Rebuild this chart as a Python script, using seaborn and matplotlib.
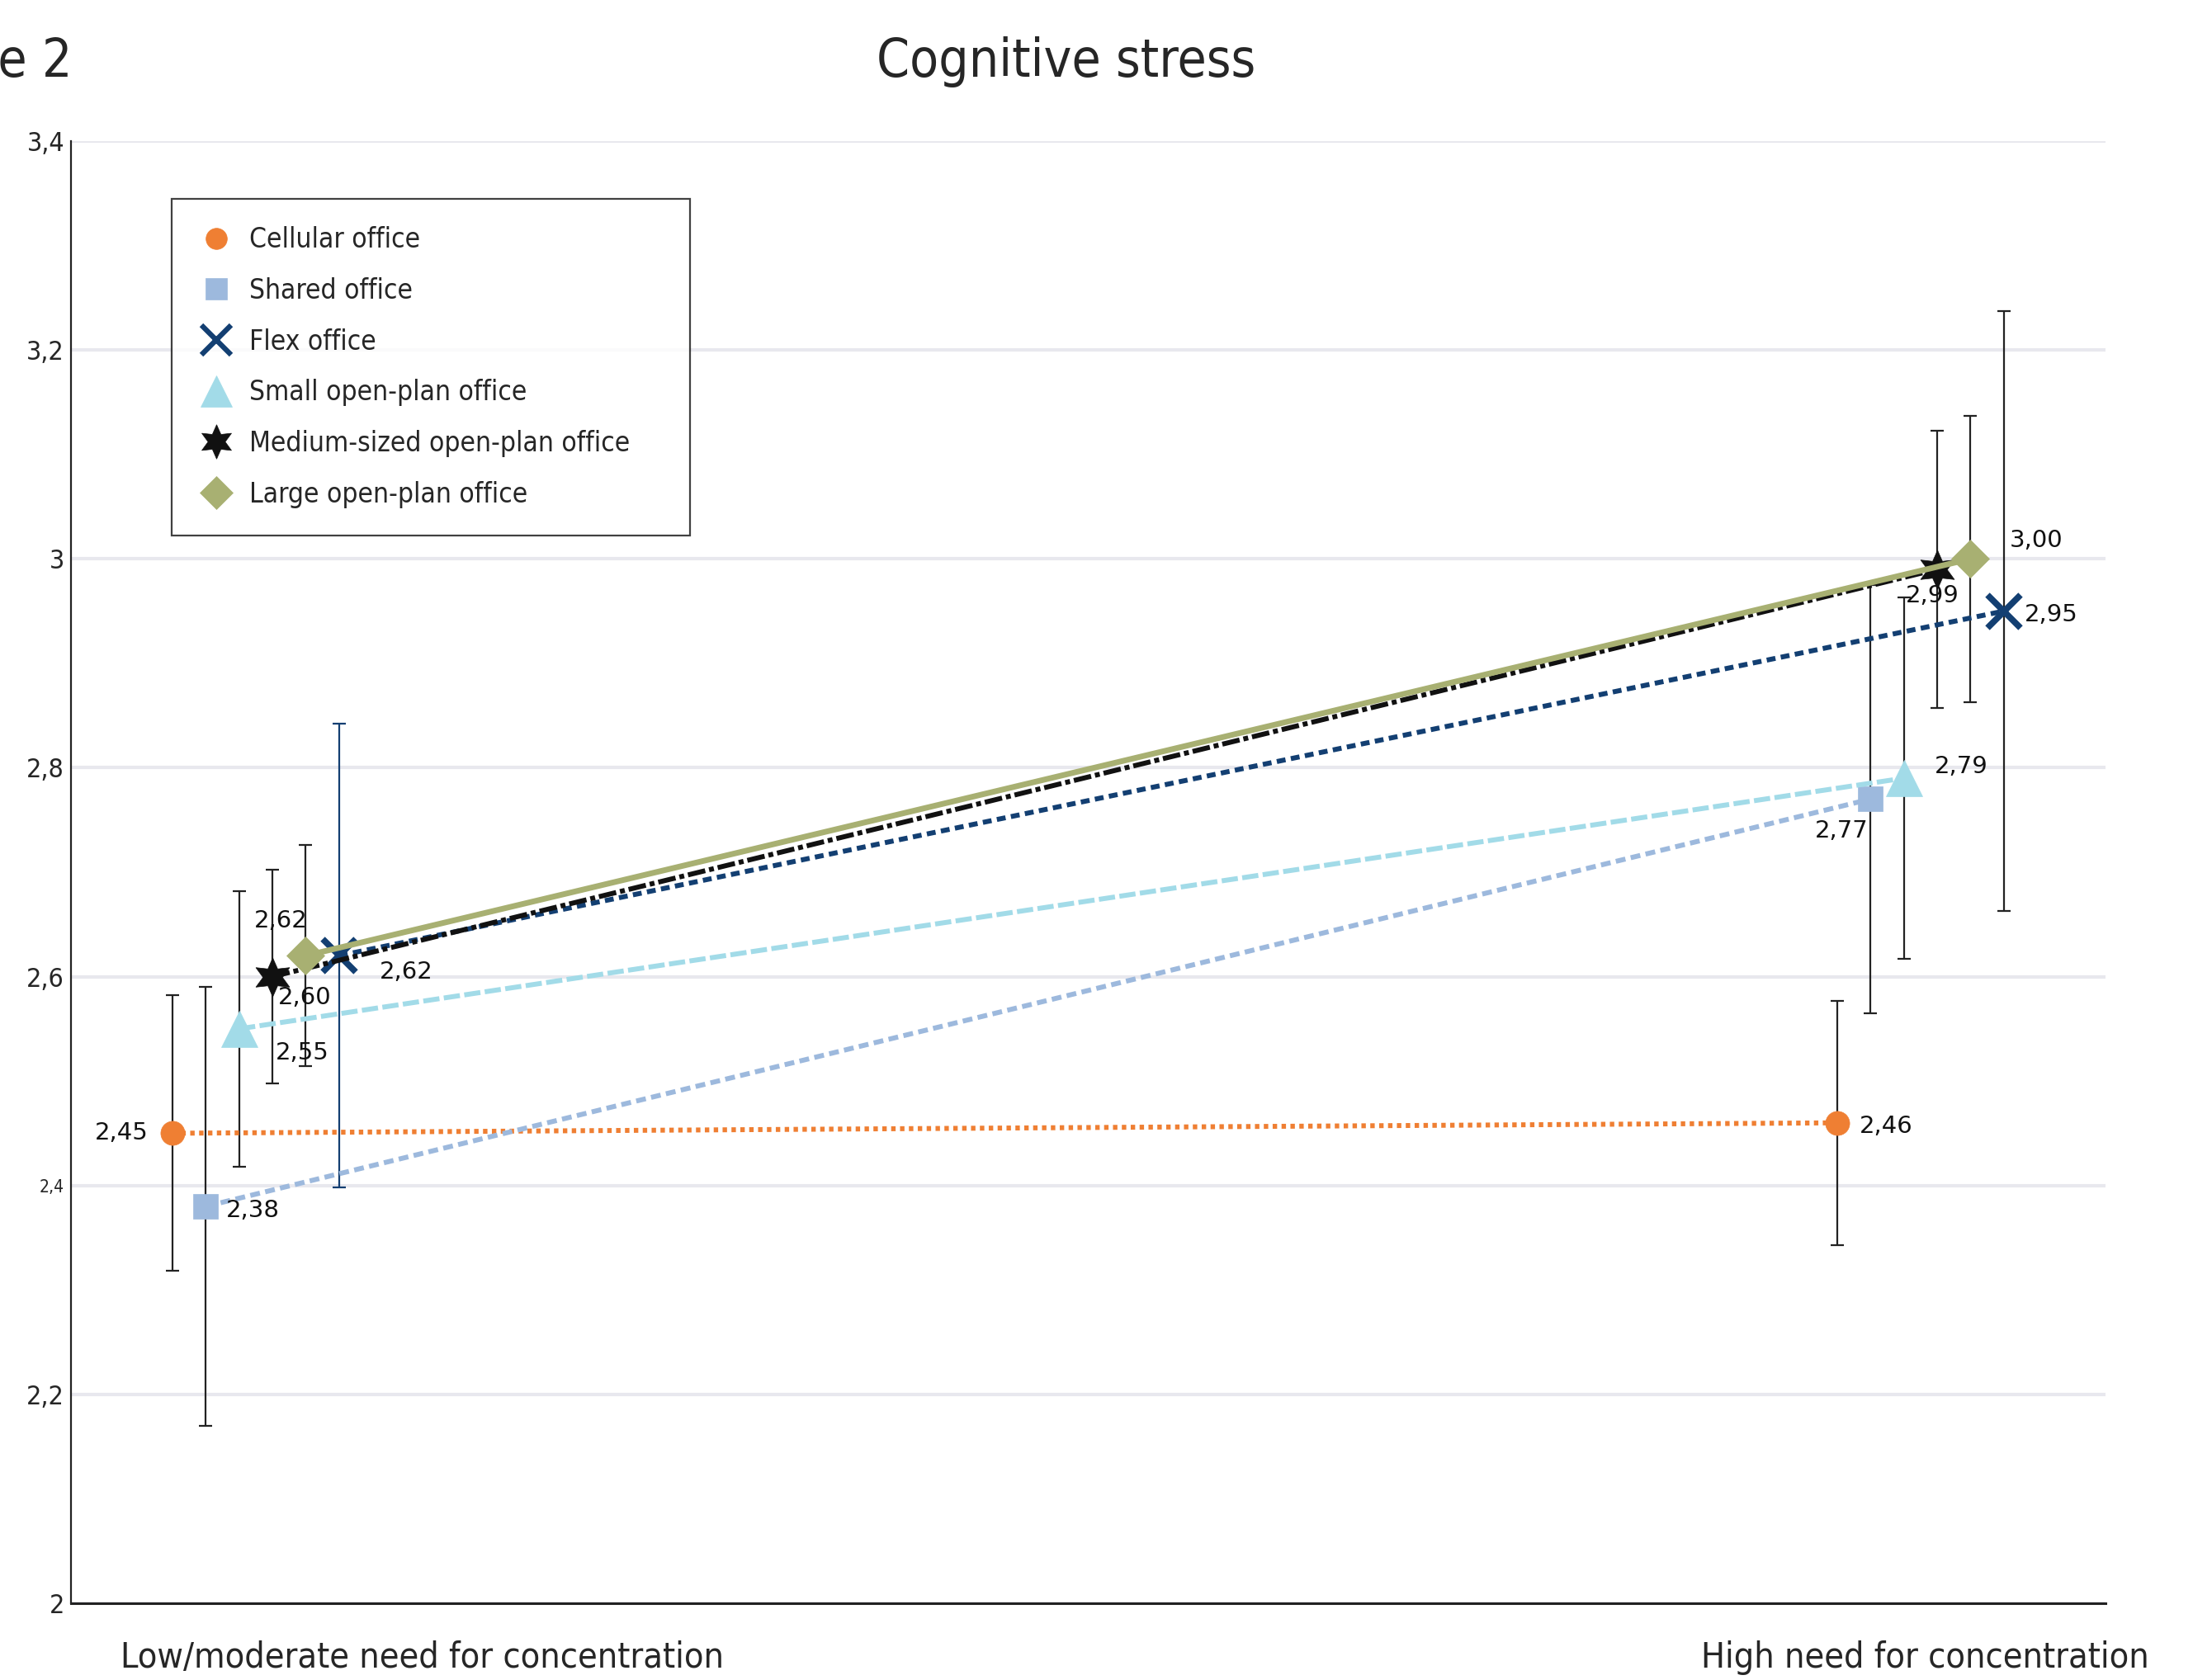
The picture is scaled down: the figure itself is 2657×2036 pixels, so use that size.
import matplotlib
matplotlib.use("Agg")
import matplotlib.pyplot as plt
import matplotlib.transforms as mtransforms
from matplotlib.lines import Line2D
import seaborn as sns
import pandas as pd

# Werte
offices = ["Cellular office", "Shared office", "Flex office", "Small open-plan office",
           "Medium-sized open-plan office", "Large open-plan office"]
groups = ["Low/moderate need for concentration", "High need for concentration"]
low_means = [2.45, 2.38, 2.62, 2.55, 2.60, 2.62]
high_means = [2.46, 2.77, 2.95, 2.79, 2.99, 3.00]
low_err = [0.132, 0.21, 0.222, 0.132, 0.102, 0.106]
high_err = [0.117, 0.205, 0.287, 0.173, 0.133, 0.137]
yticks = [2, 2.2, 2.4, 2.6, 2.8, 3, 3.2, 3.4]
ytick_labels = ["2", "2,2", "2,4", "2,6", "2,8", "3", "3,2", "3,4"]

# Stil je Büro-Typ
colors = ["#EF7F33", "#9DB9DD", "#133F72", "#A2DBE8", "#111111", "#A8B072"]
slots = [-2, -1, 3, 0, 1, 2]
markers = ["o", "s", "x", "^", (6, 1, 0), "D"]
msizes = [21, 21, 29, 31, 34, 23]
mews = [0.5, 0.5, 5.5, 0.5, 0.5, 0.5]
styles = [(0, (0.9, 0.9)), (0, (2.0, 1.1)), (0, (1.8, 1.1)), (0, (3.3, 0.9)),
          (0, (3.6, 0.8, 1, 0.8)), "-"]
widths = [4.3, 4.3, 4.3, 4.3, 4.3, 5.0]
low_ecol = ["#222222", "#222222", "#133F72", "#222222", "#222222", "#222222"]
# Offsets der Datenbeschriftungen (Pixel) und Ausrichtung
low_lab = [(-29, 0, "right"), (25, -5, "left"), (49, -20, "left"), (44, -29, "left"),
           (7, -25, "left"), (2, 42, "right")]
high_lab = [(27, -4, "left"), (-3, -39, "right"), (25, -4, "left"), (37, 14, "left"),
            (-6, -32, "center"), (47, 22, "left")]

step = 0.02

sns.set_theme(style="white")
plt.rcParams["font.family"] = ["DejaVu Sans"]
plt.rcParams["font.stretch"] = "condensed"

fig = plt.figure(figsize=(26.57, 20.36), dpi=100)
ax = fig.add_axes([0.0325, 0.0457, 0.9275, 0.8703])

for i, name in enumerate(offices):
    df = pd.DataFrame({"x": [0 + slots[i] * step, 1 + slots[i] * step],
                       "y": [low_means[i], high_means[i]]})
    sns.lineplot(data=df, x="x", y="y", ax=ax, color=colors[i], lw=widths[i],
                 linestyle=styles[i], marker=markers[i], markersize=msizes[i],
                 markeredgecolor=colors[i], markeredgewidth=mews[i], zorder=5 + i)
    for k, (m, e, ec) in enumerate([(low_means[i], low_err[i], low_ecol[i]),
                                    (high_means[i], high_err[i], "#222222")]):
        ax.errorbar(df["x"][k], m, yerr=e, fmt="none", ecolor=ec, elinewidth=1.6,
                    capsize=6, capthick=1.6, zorder=3)
    for k, (m, lab) in enumerate([(low_means[i], low_lab[i]), (high_means[i], high_lab[i])]):
        ax.annotate(f"{m:.2f}".replace(".", ","), (df["x"][k], m), xytext=(lab[0], lab[1]),
                    textcoords="offset pixels", ha=lab[2], va="center", fontsize=21,
                    fontstretch="normal", color="#111111", zorder=20)

ax.set_ylim(2, 3.4)
ax.set_xlim(-0.1008, 1.121)
ax.set_yticks(yticks)
ax.set_yticklabels(ytick_labels, fontsize=23)
ax.get_yticklabels()[2].set_fontsize(15)
ax.set_xticks([0, 1, 1.121])
ax.set_xticklabels([])
ax.set_xlabel("")
ax.set_ylabel("")
ax.yaxis.grid(True, color="#E8E8EE", lw=3)
ax.xaxis.grid(False)
ax.set_axisbelow(True)
for s in ["top", "right"]:
    ax.spines[s].set_visible(False)
ax.spines["left"].set_color("#222222")
ax.spines["left"].set_linewidth(1.6)
ax.spines["bottom"].set_color("#222222")
ax.spines["bottom"].set_linewidth(2.2)
ax.tick_params(axis="y", direction="in", length=6, width=1.6, color="#222222", pad=6)
ax.tick_params(axis="x", direction="inout", length=14, width=1.6, color="#222222")

trans = mtransforms.blended_transform_factory(ax.transData, ax.transAxes)
ax.text(0.110, -0.037, groups[0], transform=trans, ha="center", va="center", fontsize=31)
ax.text(1.0126, -0.037, groups[1], transform=trans, ha="center", va="center", fontsize=31)

fig.text(0.486, 0.963, "Cognitive stress", ha="center", va="center", fontsize=46)
fig.text(0.033, 0.963, "Figure 2", ha="right", va="center", fontsize=46)

handles = [Line2D([], [], linestyle="none", marker=markers[i], color=colors[i],
                  markeredgecolor=colors[i], markeredgewidth=(4.5 if markers[i] == "x" else 0.5),
                  markersize=msizes[i] * 0.88) for i in range(len(offices))]
leg = ax.legend(handles, offices, loc="upper left", bbox_to_anchor=(0.0495, 0.6, 0.2545, 0.3605),
                mode="expand", borderaxespad=0, fontsize=24, frameon=True, fancybox=False,
                edgecolor="#111111", labelspacing=0.86, handletextpad=0.6,
                borderpad=1.0, handlelength=1.2)
leg.get_frame().set_linewidth(1.6)

fig.savefig("out.png", dpi=100)
